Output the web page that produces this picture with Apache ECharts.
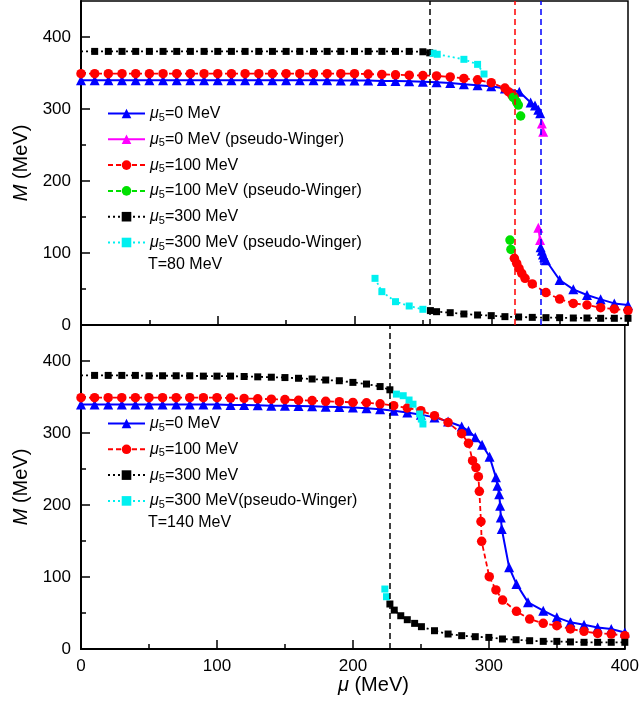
<!DOCTYPE html>
<html>
<head>
<meta charset="utf-8">
<script src="https://cdn.jsdelivr.net/npm/echarts@6/dist/echarts.min.js"></script>
<style>
  html, body { margin: 0; padding: 0; background: #fff; }
  #chart { width: 642px; height: 706px; }
</style>
</head>
<body>
<div id="chart"></div>
<script>
// Constituent quark mass M versus quark chemical potential mu, two temperatures.
// Each series is a list of [mu (MeV), M (MeV)] pairs; a null M breaks the curve
// between the upper and lower solution branches.

// ---- T = 80 MeV ----
const m0_T80 = [[0,340],[10,340],[20,340],[30,340],[40,340],[50,340],[60,340],[70,340],[80,340],[90,340],
  [100,340],[110,340],[120,340],[130,340],[140,340],[150,340],[160,340],[170,340],[180,340],[190,339.5],
  [200,339.5],[210,339.5],[220,339],[230,339],[240,338.5],[250,338],[260,337],[270,336],[280,334.5],[290,333],
  [300,331.5],[310,328.5],[320.5,324],[328.8,309],[332,305],[334.4,299],[335.8,294],[336.05,null],
  [336.1,108],[337,103],[337.8,98],[338.7,94],[340,90],[350,62.5],[360,49.5],[370,41.7],[380,35.6],[390,30],[400,27.8]];
const m0pw_T80 = [[337,280],[338,268.5],[336,null],[334.4,135],[335.7,118]];
const m100_T80 = [[0,349],[10,349],[20,349],[30,349],[40,349],[50,349],[60,349],[70,349],[80,349],[90,349],
  [100,349],[110,349],[120,349],[130,349],[140,349],[150,349],[160,349],[170,349],[180,349],[190,349],
  [200,349],[210,348.5],[220,348],[230,347.5],[240,347],[250,346.5],[260,346],[270,344.5],[280,342.5],[290,340.5],
  [300,336.5],[310,329],[312.5,324],[315,319.5],[316.8,317],[317,null],
  [316.9,92.6],[318.6,85.6],[320.3,78.7],[322.3,71.8],[324.7,64.8],[330,57],[340,45],[350,36],[360,30],
  [370,27.8],[380,24],[390,22.2],[400,20]];
const m100pw_T80 = [[316.1,316],[318.5,310],[319.8,305.5],[321.5,290.3],[320,null],[313.7,118],[314.4,105]];
const m300_T80 = [[0,380],[10,380],[20,380],[30,380],[40,380],[50,380],[60,380],[70,380],[80,380],[90,380],
  [100,380],[110,380],[120,380],[130,380],[140,380],[150,380],[160,380],[170,380],[180,380],[190,380],
  [200,380],[210,380],[220,380],[230,380],[240,380],[250,379.5],[255,378],[255.2,null],
  [255.5,20],[260,18.5],[270,17.1],[280,15.3],[290,13.9],[300,13],[310,11.6],[320,11.1],[330,10.6],[340,10.2],
  [350,10.2],[360,9.7],[370,9.7],[380,9.3],[390,9.3],[400,9.3]];
const m300pw_T80 = [[257.5,377.5],[260.5,376],[280,369],[290,362],[294.7,348.6],[290,null],
  [215,64.8],[220,46.3],[230,32.4],[240,26.4],[250,21.8]];

// ---- T = 140 MeV ----
const m0_T140 = [[0,339.5],[10,339.5],[20,339.5],[30,339.5],[40,339.5],[50,339.5],[60,339.5],[70,339.5],[80,339.5],[90,339.5],
  [100,339.5],[110,339],[120,339],[130,338.5],[140,338],[150,338],[160,337.5],[170,337],[180,336.5],[190,336],
  [200,335.5],[210,334.5],[220,333],[230,331],[240,328.6],[250,325.5],[260,321.7],[270,316],[280,309],[285,303],
  [290,294],[295,283.7],[300.5,267],[305.2,238.4],[306.3,226.8],[307.6,215],[308.3,199],[308.8,182.8],[309.5,166.6],
  [314.9,113.4],[320.3,90.2],[328.8,64.8],[340,53.2],[350,44],[360,37],[370,33.8],[380,30],[390,27.8],[400,23]];
const m100_T140 = [[0,349],[10,349],[20,349],[30,349],[40,349],[50,349],[60,349],[70,349],[80,349],[90,349],
  [100,349],[110,348.5],[120,348],[130,347.5],[140,347],[150,346.5],[160,345.5],[170,345],[180,344],[190,343.5],
  [200,342.5],[210,342],[220,340.5],[230,338],[240,334.7],[250,331],[260,324],[270,314.7],[280,299],[285,285.6],
  [288,261.5],[290.5,252],[292.3,239.3],[293,219],[294.2,177],[294.7,149.5],[300.3,100.4],[305.2,82],[310.1,68],
  [320.3,52.3],[330,41.6],[340,35.6],[350,32.4],[360,27.8],[370,24.5],[380,21.7],[390,20.8],[400,18.5]];
const m300_T140 = [[0,380],[10,380],[20,380],[30,380],[40,380],[50,379.5],[60,379.5],[70,379.5],[80,379.5],[90,379],
  [100,379],[110,379],[120,378.5],[130,378],[140,377.5],[150,377],[160,376],[170,375],[180,373.6],[190,372.6],
  [200,370.3],[210,368],[220,364.5],[227.2,360],[227.3,null],
  [227.2,62.5],[230.4,54],[235.2,46.2],[240,40.7],[245.4,35.6],[250.4,31],[260,25.4],[270,20.8],[280,18.5],
  [290,17.1],[300,16.1],[310,13.9],[320,12.9],[330,11.5],[340,10.6],[350,10.6],[360,9.8],[370,9.3],[380,9.3],
  [390,9.3],[400,9.3]];
const m300pw_T140 = [[232,354],[237,351.8],[241.3,345.8],[244.2,340],[249.1,326.4],[250.3,319.4],[251.5,312.5],[240,null],
  [223.5,83.3],[224.7,72.6]];

// Critical chemical potentials (vertical dashed guides)
const muC_T80 = [255, 317.4, 336.1];
const muC_T140 = [227.2];

// Axis ticks
const xTicks = [0, 100, 200, 300, 400];
const yMajor = [0, 100, 200, 300, 400];
const yMinor = [50, 150, 250, 350];

// Legend entries (prefix keeps the two panels' series apart)
const namesT80 = [
  'T80 μ5=0 MeV', 'T80 μ5=0 MeV (pseudo-Winger)', 'T80 μ5=100 MeV',
  'T80 μ5=100 MeV (pseudo-Winger)', 'T80 μ5=300 MeV', 'T80 μ5=300 MeV (pseudo-Winger)'
];
const namesT140 = ['T140 μ5=0 MeV', 'T140 μ5=100 MeV', 'T140 μ5=300 MeV', 'T140 μ5=300 MeV(pseudo-Winger)'];

const FONT = '"Liberation Sans", Arial, Helvetica, sans-serif';
const BLUE = '#0000ff', MAGENTA = '#ff00ff', RED = '#ff0000', GREEN = '#00e000', BLACK = '#000000', CYAN = '#00f0f0';

const chart = echarts.init(document.getElementById('chart'), null, { renderer: 'canvas' });

// Series without a marker at mu = 0 (line still starts at the axis)
function dropFirstMarker(d) {
  return d.map((p, i) => i === 0 ? { value: p, symbol: 'none' } : p);
}

function lineSeries(name, data, gi, color, lineType, symbol, size) {
  return {
    name, type: 'line', data,
    xAxisIndex: gi, yAxisIndex: gi * 2,
    color, symbol, symbolSize: size,
    showAllSymbol: true, connectNulls: false, clip: false,
    lineStyle: { color, width: lineType === 'solid' ? 2 : 1.8, type: lineType },
    itemStyle: { color },
    emphasis: { disabled: true },
    animation: false
  };
}

function vlines(values, colors) {
  return values.map((v, i) => ({ xAxis: v, lineStyle: { color: colors[i] } }));
}

function xAxisDef(gi, showLabels) {
  return {
    type: 'value', gridIndex: gi, min: 0, max: 400, interval: 100,
    axisLine: { show: true, onZero: false, lineStyle: { color: '#000', width: 2 } },
    axisTick: { show: true, inside: true, length: 9, lineStyle: { color: '#000', width: 1.5 } },
    minorTick: { show: true, splitNumber: 2, length: 5, lineStyle: { color: '#000', width: 1.5 } },
    splitLine: { show: false },
    axisLabel: { show: showLabels, customValues: xTicks, fontSize: 17, color: '#000', fontFamily: FONT, margin: 9 },
    name: showLabels ? '{i|μ} (MeV)' : '',
    nameLocation: 'middle', nameGap: 25,
    nameTextStyle: {
      fontSize: 20, color: '#000', fontFamily: FONT, padding: [0, 0, 0, 41],
      rich: { i: { fontStyle: 'italic', fontSize: 20, fontFamily: FONT, color: '#000' } }
    }
  };
}

function yAxisMain(gi) {
  return {
    type: 'value', gridIndex: gi, min: 0, max: 450, interval: 100,
    axisLine: { show: true, onZero: false, lineStyle: { color: '#000', width: 2 } },
    axisTick: { show: true, inside: true, length: 9, customValues: yMajor, lineStyle: { color: '#000', width: 1.5 } },
    splitLine: { show: false },
    axisLabel: { show: true, customValues: yMajor, fontSize: 17, color: '#000', fontFamily: FONT, margin: 10 },
    name: '{i|M} (MeV)', nameLocation: 'middle', nameGap: 48, nameRotate: 90,
    nameTextStyle: {
      fontSize: 20, color: '#000', fontFamily: FONT,
      rich: { i: { fontStyle: 'italic', fontSize: 20, fontFamily: FONT, color: '#000' } }
    }
  };
}

function yAxisMinor(gi) {
  return {
    type: 'value', gridIndex: gi, min: 0, max: 450, interval: 50, position: 'left',
    axisLine: { show: false },
    axisTick: { show: true, inside: true, length: 5, customValues: yMinor, lineStyle: { color: '#000', width: 1.5 } },
    splitLine: { show: false },
    axisLabel: { show: false }
  };
}

const legendRich = {
  mu: { fontStyle: 'italic', fontSize: 16, fontFamily: FONT, color: '#000', lineHeight: 18 },
  sub: { fontSize: 11, fontFamily: FONT, color: '#000', lineHeight: 18, padding: [8, 0, 0, 0] },
  t: { fontSize: 16, fontFamily: FONT, color: '#000', lineHeight: 18 }
};
function legendText(name) {
  const rest = name.replace(/^T\d+ μ5/, '');
  return '{mu|μ}{sub|5}{t|' + rest + '}';
}

const series = [
  lineSeries(namesT80[0], m0_T80, 0, BLUE, 'solid', 'triangle', 10),
  lineSeries(namesT80[1], m0pw_T80, 0, MAGENTA, 'solid', 'triangle', 10),
  lineSeries(namesT80[2], m100_T80, 0, RED, [5, 3], 'circle', 9.5),
  lineSeries(namesT80[3], m100pw_T80, 0, GREEN, [5, 3], 'circle', 9.5),
  lineSeries(namesT80[4], dropFirstMarker(m300_T80), 0, BLACK, [2, 3], 'rect', 7),
  lineSeries(namesT80[5], m300pw_T80, 0, CYAN, [2, 3], 'rect', 7),
  lineSeries(namesT140[0], m0_T140, 1, BLUE, 'solid', 'triangle', 10),
  lineSeries(namesT140[1], m100_T140, 1, RED, [5, 3], 'circle', 9.5),
  lineSeries(namesT140[2], dropFirstMarker(m300_T140), 1, BLACK, [2, 3], 'rect', 7),
  lineSeries(namesT140[3], m300pw_T140, 1, CYAN, [2, 3], 'rect', 7)
];

// dashed guides at the transition points
series[0].markLine = {
  silent: true, symbol: 'none', label: { show: false }, animation: false,
  lineStyle: { type: [6, 4], width: 1.5 },
  data: vlines(muC_T80, [BLACK, RED, BLUE])
};
series[6].markLine = {
  silent: true, symbol: 'none', label: { show: false }, animation: false,
  lineStyle: { type: [6, 4], width: 1.5 },
  data: vlines(muC_T140, [BLACK])
};

const legendBase = {
  orient: 'vertical', itemWidth: 37, itemHeight: 12, itemGap: 6.8, padding: 0,
  selectedMode: false, formatter: legendText,
  textStyle: { fontFamily: FONT, fontSize: 16, color: '#000', rich: legendRich }
};

const option = {
  backgroundColor: '#fff',
  animation: false,
  grid: [
    { left: 81, top: 1, width: 547, height: 324, show: true, borderColor: '#000', borderWidth: 1.5, backgroundColor: 'transparent' },
    { left: 81, top: 325, width: 547, height: 324, show: true, borderColor: '#000', borderWidth: 1.5, backgroundColor: 'transparent' }
  ],
  xAxis: [xAxisDef(0, false), xAxisDef(1, true)],
  yAxis: [yAxisMain(0), yAxisMinor(0), yAxisMain(1), yAxisMinor(1)],
  legend: [
    Object.assign({}, legendBase, { data: namesT80, left: 107, top: 104 }),
    Object.assign({}, legendBase, { data: namesT140, left: 107, top: 414 })
  ],
  graphic: [
    { type: 'text', left: 148, top: 257, style: { text: 'T=80 MeV', font: '16px ' + FONT, fill: '#000' } },
    { type: 'text', left: 148, top: 515, style: { text: 'T=140 MeV', font: '16px ' + FONT, fill: '#000' } }
  ],
  series
};

chart.setOption(option);
</script>
</body>
</html>
